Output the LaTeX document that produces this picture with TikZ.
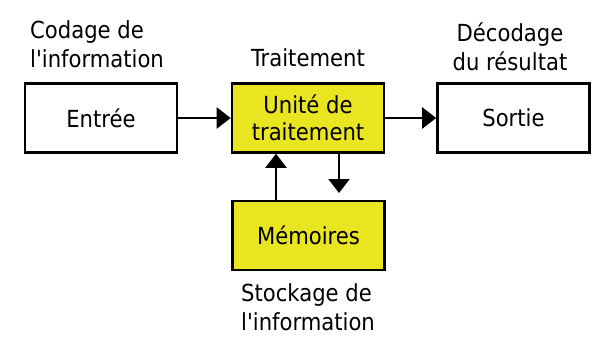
\documentclass[tikz,border=0pt]{standalone}
\usepackage{fontspec}
\setmainfont{DejaVu Sans Condensed}
\usetikzlibrary{arrows.meta}
\definecolor{boxyellow}{RGB}{233,229,32}
\begin{document}
\begin{tikzpicture}[x=1pt,y=-1pt,
  blk/.style={draw=black,line width=2.6pt,minimum width=152pt,minimum height=69pt,inner sep=0pt,
    font=\fontsize{23.5}{27}\selectfont,align=center},
  ybox/.style={blk,fill=boxyellow},
  wbox/.style={blk,fill=white},
  lbl/.style={font=\fontsize{23.5}{28.5}\selectfont,inner sep=0pt},
  arr/.style={line width=2.2pt,-{Triangle[length=14pt,width=21pt]}}]
\useasboundingbox (0,0) rectangle (594,341);
\node[wbox] (in) at (101,118) {Entrée};
\node[ybox] (cpu) at (308,118) {Unité de\\traitement};
\node[wbox] (out) at (513.5,118) {Sortie};
\node[ybox] (mem) at (308.5,235.5) {Mémoires};
\node[lbl,align=left,anchor=west] (t1) at (30,44) {Codage de\\l\textquotesingle information};
\node[lbl] (t2) at (308,58) {Traitement};
\node[lbl,align=center] (t3) at (510,47) {Décodage\\du résultat};
\node[lbl,align=left,anchor=west] (t4) at (241,307) {Stockage de\\l\textquotesingle information};
\draw[arr] (in.east) -- (cpu.west);
\draw[arr] (cpu.east) -- (out.west);
\draw[arr] (mem.north -| 276,0) -- (cpu.south -| 276,0);
\coordinate (dtip) at (339,193);
\draw[arr] (cpu.south -| dtip) -- (dtip);
\end{tikzpicture}
\end{document}
